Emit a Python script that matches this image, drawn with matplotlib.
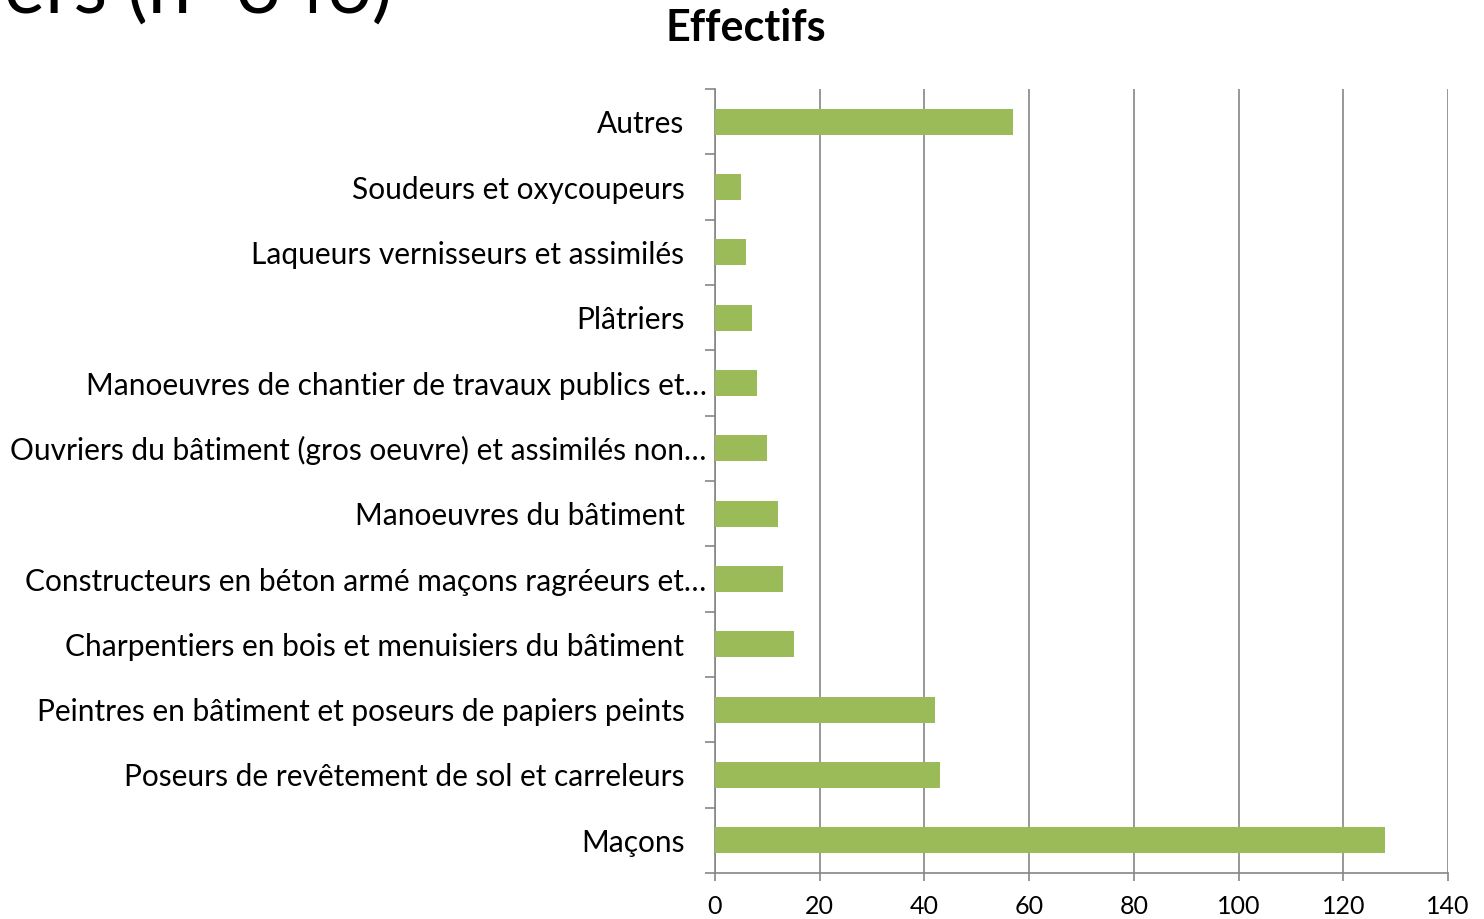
import matplotlib.pyplot as plt
import matplotlib.transforms as mtransforms
import numpy as np

plt.rcParams['font.family'] = ['Lato', 'DejaVu Sans']

categories = [
    "Maçons",
    "Poseurs de revêtement de sol et carreleurs",
    "Peintres en bâtiment et poseurs de papiers peints",
    "Charpentiers en bois et menuisiers du bâtiment",
    "Constructeurs en béton armé maçons ragréeurs et…",
    "Manoeuvres du bâtiment",
    "Ouvriers du bâtiment (gros oeuvre) et assimilés non…",
    "Manoeuvres de chantier de travaux publics et…",
    "Plâtriers",
    "Laqueurs vernisseurs et assimilés",
    "Soudeurs et oxycoupeurs",
    "Autres",
]
effectifs = [128, 43, 42, 15, 13, 12, 10, 8, 7, 6, 5, 57]
x_ticks = [0, 20, 40, 60, 80, 100, 120, 140]

fig = plt.figure(figsize=(14.84, 9.19), dpi=100)
ax = fig.add_axes([715 / 1484, 1 - 873 / 919, 733 / 1484, 784 / 919])

y = np.arange(len(categories))
ax.barh(y, effectifs, height=0.4, color='#9bbb59', zorder=3)

ax.set_xlim(0, 140)
ax.set_ylim(-0.5, len(categories) - 0.5)
ax.set_xticks(x_ticks)
ax.set_xticklabels([str(v) for v in x_ticks], fontsize=18)
ax.set_yticks(y)
ax.set_yticklabels(categories, fontsize=21.5)
ax.set_yticks(np.arange(-0.5, len(categories)), minor=True)

ax.tick_params(axis='y', which='major', length=0, pad=22)
ax.tick_params(axis='y', which='minor', length=7, width=1.2, color='#868686')
ax.tick_params(axis='x', length=6, width=1.2, color='#868686', pad=10)

# truncated labels sit closer to the axis, as in the original
shift = mtransforms.ScaledTranslation(22 / 100, 0, fig.dpi_scale_trans)
for lab in ax.get_yticklabels():
    if lab.get_text().endswith("…"):
        lab.set_transform(lab.get_transform() + shift)

ax.grid(axis='x', color='#868686', linewidth=1.2, zorder=0)
for side in ['top', 'right']:
    ax.spines[side].set_visible(False)
for side in ['left', 'bottom']:
    ax.spines[side].set_color('#868686')
    ax.spines[side].set_linewidth(1.2)

fig.text(746 / 1484, 1 - 28 / 919, "Effectifs", ha='center', va='center',
         fontsize=31, fontweight='bold')
fig.text(392 / 1484, 1 - 13 / 919, "ers (n=346)", ha='right', va='baseline',
         fontsize=56)

fig.savefig("out.png", dpi=100)
